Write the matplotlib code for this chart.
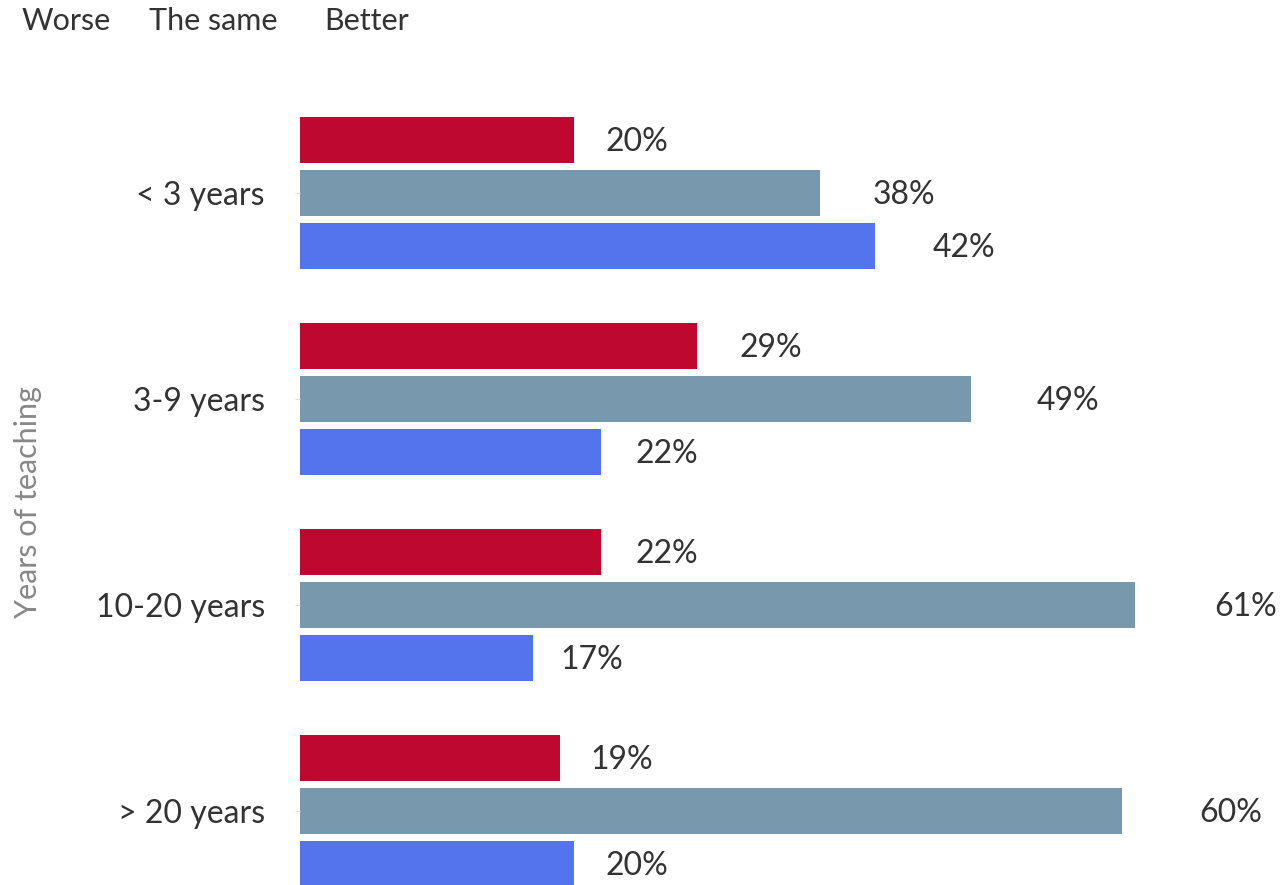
import matplotlib.pyplot as plt
import numpy as np

plt.rcParams['font.family'] = ['Lato', 'DejaVu Sans']

groups = ["< 3 years", "3-9 years", "10-20 years", "> 20 years"]
series = ["Worse", "The same", "Better"]
worse = [20, 29, 22, 19]
same = [38, 49, 61, 60]
better = [42, 22, 17, 20]
colors = ["#BF0830", "#7899AD", "#5474EE"]

fig = plt.figure(figsize=(12.86, 8.85), dpi=100)
# axes start where the bars start, run to the right edge
ax = fig.add_axes([300 / 1286, 0, 986 / 1286, 785 / 885])

y = np.arange(len(groups))
offsets = [-0.257, 0, 0.257]
for vals, off, c in zip([worse, same, better], offsets, colors):
    ax.barh(y + off, vals, height=0.223, color=c)
    for yi, v in zip(y, vals):
        ax.text(v * 1.085 + 0.6, yi + off + 0.01, f"{v}%", va="center", ha="left",
                fontsize=23, color="#333333")

ax.set_xlim(0, 72)
ax.set_ylim(3.359, -0.451)
ax.set_yticks(y)
ax.set_yticklabels(groups, fontsize=23, color="#333333")
ax.tick_params(axis="y", length=3.6, color="#DDDDDD", pad=21.6)
ax.set_xticks([])
for s in ax.spines.values():
    s.set_visible(False)

fig.text(28 / 1286, 1 - 502 / 885, "Years of teaching", rotation=90,
         ha="center", va="center", fontsize=22, color="#888888")

# legend entries are plain text along the top
for label, xp in zip(series, [22, 149, 324]):
    fig.text(xp / 1286, 1 - 21 / 885, label, ha="left", va="center",
             fontsize=22, color="#333333")

fig.savefig("out.png", dpi=100)
